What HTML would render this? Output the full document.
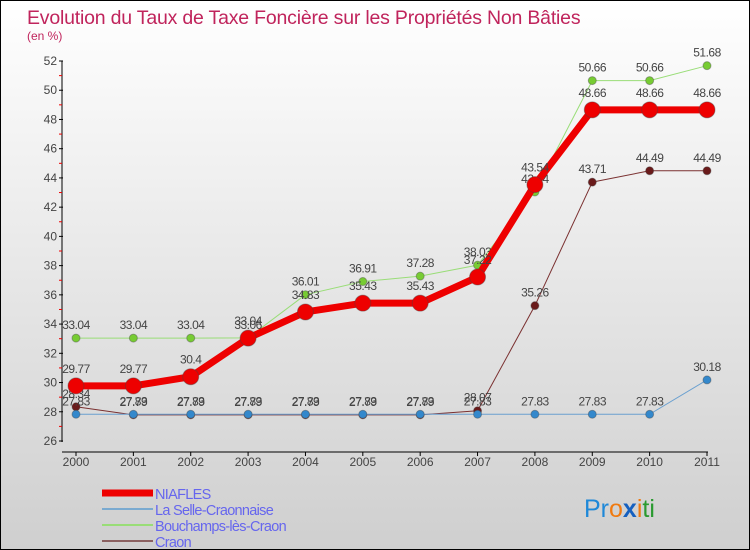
<!DOCTYPE html>
<html><head><meta charset="utf-8"><style>
body{margin:0;}
#wrap{width:748px;height:548px;border:1px solid #000;background:linear-gradient(#fff,#cfcfcf);position:relative;overflow:hidden;font-family:"Liberation Sans","DejaVu Sans",sans-serif;}
svg text{font-family:"Liberation Sans","DejaVu Sans",sans-serif;}
</style></head><body>
<div id="wrap">
<svg id="chart" width="748" height="548">
<text x="26" y="23" font-size="19.5" fill="#c0245c" letter-spacing="-0.2">Evolution du Taux de Taxe Foncière sur les Propriétés Non Bâties</text>
<text x="26" y="39" font-size="12" fill="#c0245c">(en %)</text>
<g id="axes"></g><g id="series"></g><g id="legend"></g>
<text x="583" y="516" font-size="25"><tspan fill="#1e88d8">Pr</tspan><tspan fill="#f07a10">o</tspan><tspan fill="#1560c0" font-weight="bold">x</tspan><tspan fill="#f07a10">i</tspan><tspan fill="#2a9a30">ti</tspan></text>
</svg></div>
<script>
const years=[2000,2001,2002,2003,2004,2005,2006,2007,2008,2009,2010,2011];
const yTicks=[26,28,30,32,34,36,38,40,42,44,46,48,50,52];
const niafles=[29.77,29.77,30.4,33.04,34.83,35.43,35.43,37.22,43.54,48.66,48.66,48.66];
const selle=[27.83,27.83,27.83,27.83,27.83,27.83,27.83,27.83,27.83,27.83,27.83,30.18];
const bouchamps=[33.04,33.04,33.04,33.06,36.01,36.91,37.28,38.03,43.04,50.66,50.66,51.68];
const craon=[28.34,27.79,27.79,27.79,27.79,27.79,27.79,28.07,35.26,43.71,44.49,44.49];
const NS="http://www.w3.org/2000/svg";
const X0=75,X1=706,Y0=440,Y1=60,YMIN=26,YMAX=52;
function xs(i){return X0+(X1-X0)*i/(years.length-1);}
function ys(v){return Y0-(v-YMIN)/(YMAX-YMIN)*(Y0-Y1);}
function mk(tag,attrs,parent){const e=document.createElementNS(NS,tag);for(const k in attrs)e.setAttribute(k,attrs[k]);parent.appendChild(e);return e;}
const ax=document.getElementById('axes');
let a=mk('line',{x1:61,y1:Y1,x2:61,y2:Y0+1,stroke:'#000','stroke-width':1},ax);


a=mk('line',{x1:61,y1:Y0+11,x2:X1+1,y2:Y0+11,stroke:'#000','stroke-width':1},ax);


yTicks.forEach((v,i)=>{const y=ys(v);
 mk('line',{x1:58,y1:y,x2:62,y2:y,stroke:'#000'},ax);
 if(i<yTicks.length-1) mk('line',{x1:58,y1:ys(v+1),x2:61,y2:ys(v+1),stroke:'#e00'},ax);
 const t=mk('text',{x:56,y:y+4,'font-size':12,fill:'#444','text-anchor':'end'},ax);t.textContent=v;
 
 });
years.forEach((yr,i)=>{const x=xs(i);
 mk('line',{x1:x,y1:Y0+11,x2:x,y2:Y0+15,stroke:'#000'},ax);
 const t=mk('text',{x:x,y:Y0+25,'font-size':12,fill:'#444','text-anchor':'middle'},ax);t.textContent=yr;
 
 });
const sg=document.getElementById('series');
const defs=[
 {d:craon,c:'#7a3030',m:'#6a1a1a',w:1,r:4,n:'craon'},
 {d:selle,c:'#6aa0d0',m:'#3388cc',w:1,r:4,n:'la-selle-craonnaise'},
 {d:bouchamps,c:'#99dd77',m:'#77cc33',w:1,r:4,n:'bouchamps-les-craon'},
 {d:niafles,c:'#ee0000',m:'#ee0000',w:7,r:8,n:'niafles'}];
defs.forEach(s=>{const g=mk('g',{},sg);
 
 
 const p=mk('polyline',{points:s.d.map((v,i)=>xs(i)+','+ys(v)).join(' '),fill:'none',stroke:s.c,'stroke-width':s.w,'stroke-linejoin':'round'},g);
 
 
 s.d.forEach((v,i)=>{const c=mk('circle',{cx:xs(i),cy:ys(v),r:s.r,fill:s.m,stroke:'#444','stroke-opacity':0.4},g);
  
  
  const t=mk('text',{x:xs(i),y:ys(v)-9-(s.w>1?4:0),'font-size':12,fill:'#444','text-anchor':'middle','letter-spacing':'-0.5'},g);t.textContent=v;
  
  });});
const lg=document.getElementById('legend');
const names=['NIAFLES','La Selle-Craonnaise','Bouchamps-lès-Craon','Craon'];
const lc=['#ee0000','#7aaad0','#99dd77','#8a6060'];const lw=[7,2,2,2];
names.forEach((n,i)=>{const y=492+i*16;
 const g=mk('g',{},lg);
 
 
 mk('line',{x1:101,y1:y,x2:152,y2:y,stroke:lc[i],'stroke-width':lw[i]},g);
 const t=mk('text',{x:154,y:y+6,'font-size':14.5,fill:'#6666ee','letter-spacing':'-0.7'},g);t.textContent=n;});
</script></body></html>
